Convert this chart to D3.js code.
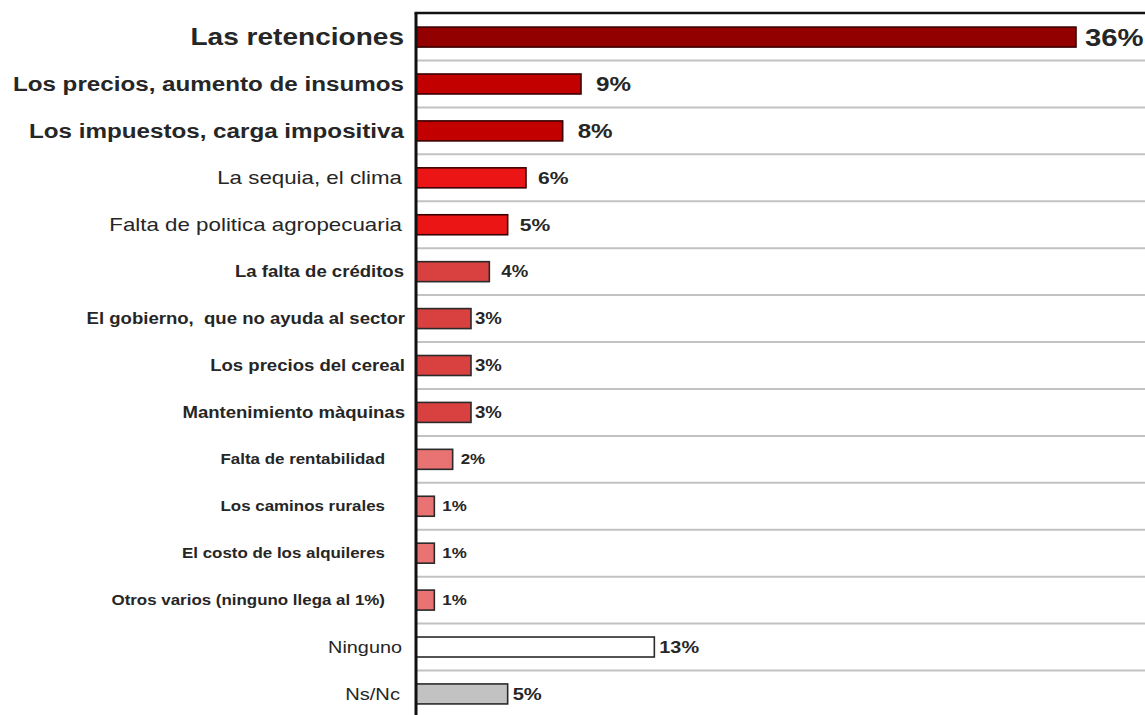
<!DOCTYPE html>
<html>
<head>
<meta charset="utf-8">
<script src="https://cdn.jsdelivr.net/npm/d3@7"></script>
<style>
  html, body { margin: 0; padding: 0; background: #fff; }
  svg { display: block; font-family: "Liberation Sans", Arial, sans-serif; }
  text { white-space: pre; }
</style>
</head>
<body>
<svg id="chart" width="1145" height="715"></svg>
<script>
// categories, top to bottom
var categories = [
  "Las retenciones",
  "Los precios, aumento de insumos",
  "Los impuestos, carga impositiva",
  "La sequia, el clima",
  "Falta de politica agropecuaria",
  "La falta de créditos",
  "El gobierno,  que no ayuda al sector",
  "Los precios del cereal",
  "Mantenimiento màquinas",
  "Falta de rentabilidad",
  "Los caminos rurales",
  "El costo de los alquileres",
  "Otros varios (ninguno llega al 1%)",
  "Ninguno",
  "Ns/Nc"
];
// percentages
var values = [36, 9, 8, 6, 5, 4, 3, 3, 3, 2, 1, 1, 1, 13, 5];
// emphasis group of each row
var tiers = ["t1", "t2", "t2", "t3", "t3", "t4a", "t4", "t4", "t4", "t5", "t5", "t5", "t5", "none", "nsnc"];

// look of each group (the source image is stretched sideways, hence sx)
var tierStyle = {
  t1:   { fill: "#930000", lab: 23, labW: "bold",   sx: 1.22, val: 24, gap: 9,  labX: 12 },
  t2:   { fill: "#c20000", lab: 20, labW: "bold",   sx: 1.21, val: 20, gap: 15, labX: 12 },
  t3:   { fill: "#ec1515", lab: 18, labW: "normal", sx: 1.24, val: 17, gap: 12, labX: 14 },
  t4a:  { fill: "#d94040", lab: 16, labW: "bold",   sx: 1.16, val: 16, gap: 12, labX: 12 },
  t4:   { fill: "#d94040", lab: 16, labW: "bold",   sx: 1.16, val: 16, gap: 4,  labX: 11 },
  t5:   { fill: "#e97272", lab: 14, labW: "bold",   sx: 1.21, val: 14, gap: 8,  labX: 31 },
  none: { fill: "#ffffff", lab: 16, labW: "normal", sx: 1.24, val: 16, gap: 5,  labX: 14 },
  nsnc: { fill: "#c2c2c2", lab: 16, labW: "normal", sx: 1.26, val: 16, gap: 5,  labX: 16 }
};

var svg = d3.select("#chart");
var W = 1145, H = 715;
var x0 = 416, topY = 13;

var x = d3.scaleLinear().domain([0, 36]).range([x0, 1076]);
var y = d3.scaleBand().domain(categories)
  .range([topY, 718]).paddingInner(0.574).paddingOuter(0.3);

var step = y.step(), bw = y.bandwidth();
function st(i) { return tierStyle[tiers[i]]; }

// gridlines between rows
svg.append("g").selectAll("line")
  .data(categories.slice(0, -1))
  .enter().append("line")
    .attr("x1", x0).attr("x2", W)
    .attr("y1", function(d) { return y(d) + bw / 2 + step / 2; })
    .attr("y2", function(d) { return y(d) + bw / 2 + step / 2; })
    .style("stroke", "#c2c2c2")
    .style("stroke-width", 2);

// bars
svg.append("g").selectAll("rect")
  .data(categories)
  .enter().append("rect")
    .attr("x", x0)
    .attr("y", function(d) { return y(d); })
    .attr("width", function(d, i) { return x(values[i]) - x0; })
    .attr("height", bw)
    .style("fill", function(d, i) { return st(i).fill; })
    .style("stroke", function(d, i) { return i < 5 ? "#3a0000" : "#2a2a2a"; })
    .style("stroke-width", 1.6);

// value labels
svg.append("g").selectAll("text")
  .data(categories)
  .enter().append("text")
    .attr("transform", function(d, i) {
      return "translate(" + (x(values[i]) + st(i).gap) + "," + (y(d) + bw / 2) + ") scale(" + st(i).sx + ",1)";
    })
    .attr("dy", ".36em")
    .style("font-size", function(d, i) { return st(i).val + "px"; })
    .style("font-weight", "bold")
    .style("fill", "#262626")
    .text(function(d, i) { return values[i] + "%"; });

// category labels
svg.append("g").selectAll("text")
  .data(categories)
  .enter().append("text")
    .attr("transform", function(d, i) {
      return "translate(" + (x0 - st(i).labX) + "," + (y(d) + bw / 2) + ") scale(" + st(i).sx + ",1)";
    })
    .attr("dy", ".36em")
    .style("text-anchor", "end")
    .style("font-size", function(d, i) { return st(i).lab + "px"; })
    .style("font-weight", function(d, i) { return st(i).labW; })
    .style("fill", "#262626")
    .text(function(d) { return d; });

// frame: top border and left axis
svg.append("line")
  .attr("x1", x0 - 1.5).attr("x2", W).attr("y1", topY).attr("y2", topY)
  .style("stroke", "#111").style("stroke-width", 2.5);
svg.append("line")
  .attr("x1", x0).attr("x2", x0).attr("y1", topY).attr("y2", H)
  .style("stroke", "#111").style("stroke-width", 3);
</script>
</body>
</html>
